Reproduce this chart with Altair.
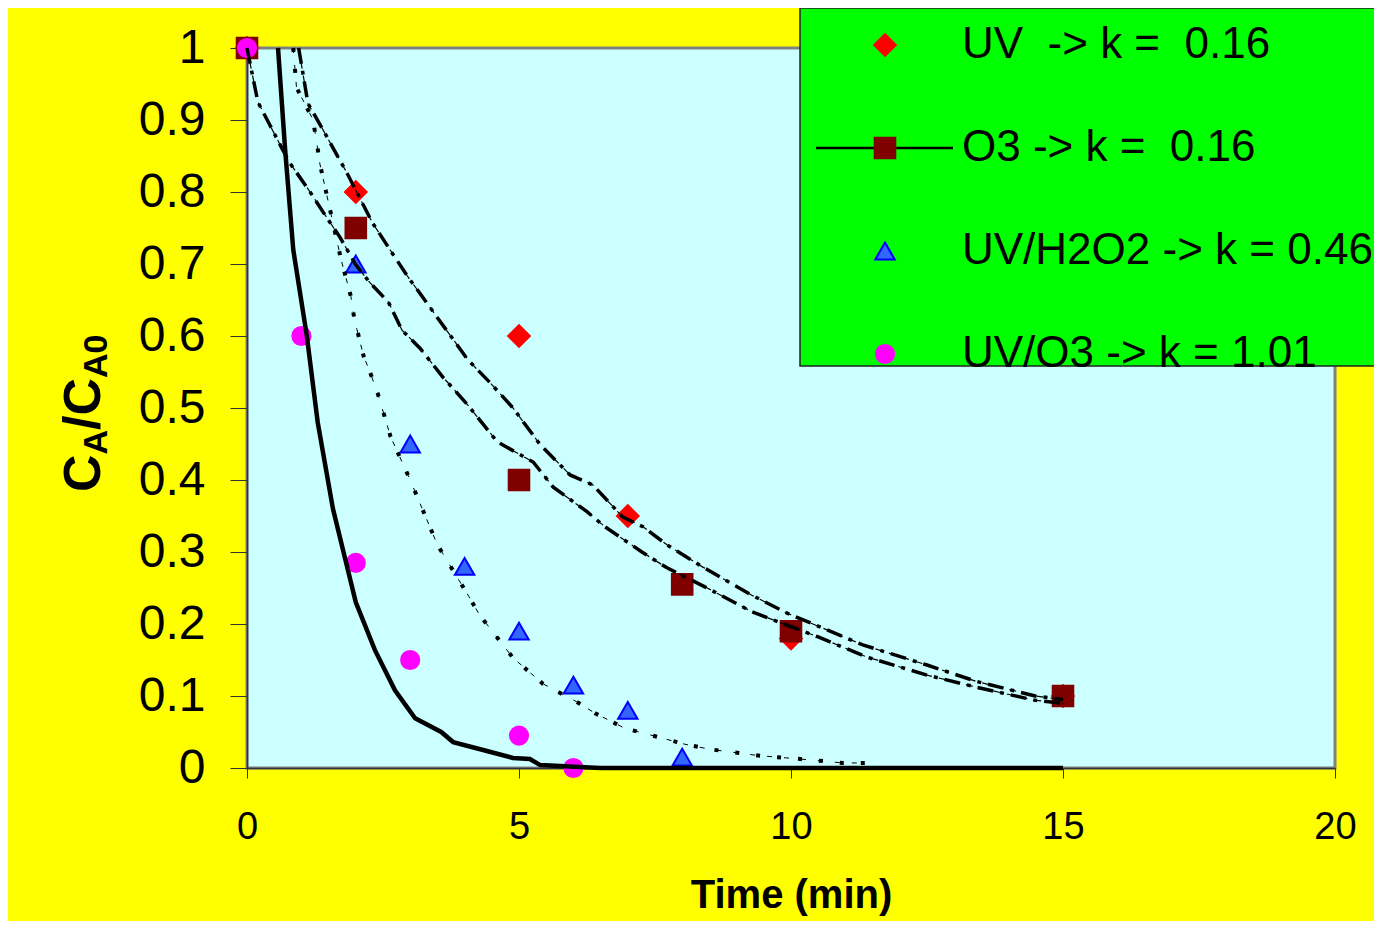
import altair as alt
import pandas as pd

FONT = "Liberation Sans"
NB = "\u00a0"

# ---- legend / series ----
series_labels = ["UV" + NB + " -> k =" + NB + " 0.16", "O3 -> k =" + NB + " 0.16",
                 "UV/H2O2 -> k = 0.46", "UV/O3 -> k = 1.01"]
series_shapes = ["diamond", "square", "triangle-up", "circle"]
series_fills = ["#FF0000", "#800000", "#3366FF", "#FF00FF"]
series_strokes = ["#FF0000", "#800000", "#0000FF", "#FF00FF"]
series_sizes = [470, 330, 500, 330]

# ---- measured points ----
uv_t = [0, 2, 5, 7, 10, 15]
uv_c = [1.0, 0.8, 0.6, 0.35, 0.18, 0.1]
o3_t = [0, 2, 5, 8, 10, 15]
o3_c = [1.0, 0.75, 0.4, 0.255, 0.19, 0.1]
h2o2_t = [0, 2, 3, 4, 5, 6, 7, 8]
h2o2_c = [1.0, 0.7, 0.45, 0.28, 0.19, 0.115, 0.08, 0.015]
uvo3_t = [0, 1, 2, 3, 5, 6]
uvo3_c = [1.0, 0.6, 0.285, 0.15, 0.045, 0.0]

# ---- fitted curves ----
fit_uvo3_t = [0.57, 0.7, 0.85, 1.1, 1.3, 1.58, 2.0, 2.35, 2.72, 3.09, 3.57, 3.79, 4.34, 4.89, 5.2, 5.39, 6.49, 15.0]
fit_uvo3_c = [1.0, 0.86, 0.72, 0.6, 0.48, 0.36, 0.23, 0.164, 0.108, 0.069, 0.05, 0.036, 0.025, 0.014, 0.0125, 0.004, 0.0, 0.0]

fit_h2o2_t = [0.85, 0.91, 1.21, 1.28, 1.34, 1.73, 1.91, 1.97, 2.14, 2.27, 2.40, 2.64, 3.0, 3.5, 4.08, 4.28, 4.89, 5.44,
              6.06, 6.4, 6.95, 7.41, 8.05, 8.51, 9.43, 10.17, 10.96, 11.4]
fit_h2o2_c = [1.0, 0.945, 0.901, 0.87, 0.839, 0.706, 0.655, 0.625, 0.573, 0.548, 0.521, 0.46, 0.40, 0.31, 0.238, 0.212,
              0.153, 0.117, 0.092, 0.076, 0.055, 0.046, 0.033, 0.026, 0.017, 0.0125, 0.007, 0.007]

fit_uv_t = [0.95, 1.12, 1.4, 1.84, 2.3, 2.67, 2.96, 3.4, 4.06, 4.47, 4.89, 5.39, 5.94, 6.36, 6.9, 7.28, 7.72, 8.38,
            9.28, 9.93, 10.53, 11.32, 12.5, 13.42, 14.49, 15.0]
fit_uv_c = [1.0, 0.923, 0.886, 0.826, 0.758, 0.715, 0.682, 0.636, 0.567, 0.535, 0.5, 0.449, 0.407, 0.393, 0.349, 0.335,
            0.31, 0.279, 0.24, 0.215, 0.196, 0.171, 0.143, 0.12, 0.1, 0.095]

fit_o3_t = [0, 0.2, 0.42, 0.66, 0.79, 1.16, 1.4, 1.71, 1.99, 2.26, 2.6, 2.85, 3.18, 3.6, 4.06, 4.6, 5.26, 5.63, 6.25,
            6.58, 7.26, 7.72, 8.46, 9.28, 10.5, 11.4, 12.5, 13.42, 14.49, 15.0]
fit_o3_c = [1.0, 0.925, 0.893, 0.858, 0.84, 0.8, 0.772, 0.737, 0.70, 0.674, 0.647, 0.608, 0.583, 0.543, 0.504, 0.453,
            0.425, 0.39, 0.356, 0.335, 0.3, 0.278, 0.25, 0.217, 0.182, 0.154, 0.129, 0.112, 0.094, 0.09]

x_ticks = [0, 5, 10, 15, 20]
y_ticks = [0, 0.1, 0.2, 0.3, 0.4, 0.5, 0.6, 0.7, 0.8, 0.9, 1.0]

# ---- tables ----
rows = []
for lab, ts, cs in [(series_labels[2], h2o2_t, h2o2_c), (series_labels[0], uv_t, uv_c),
                    (series_labels[1], o3_t, o3_c), (series_labels[3], uvo3_t, uvo3_c)]:
    for t, c in zip(ts, cs):
        rows.append({"series": lab, "t": t, "c": c})
points_df = pd.DataFrame(rows)


def curve(ts, cs):
    return pd.DataFrame({"t": ts, "c": cs})


X = alt.X("t:Q", scale=alt.Scale(domain=[0, 20], nice=False),
          axis=alt.Axis(values=x_ticks, format="~g", labelFontSize=38, labelFont=FONT, labelColor="black",
                        labelPadding=60, labelBaseline="alphabetic", labelFlush=False, labelOverlap=False,
                        tickSize=10, tickColor="#333333", domainColor="#333333", domainWidth=1.5, grid=False,
                        title="Time (min)", titleFont=FONT, titleFontSize=40, titleFontWeight="bold",
                        titleColor="black", titleY=139, titleBaseline="alphabetic"))
Y = alt.Y("c:Q", scale=alt.Scale(domain=[0, 1], nice=False),
          axis=alt.Axis(values=y_ticks, format="~g", labelFontSize=48, labelFont=FONT, labelColor="black",
                        labelPadding=25, labelOverlap=False, tickSize=17, tickColor="#333333",
                        domainColor="#333333", domainWidth=1.5, grid=False, title=None))

legend = alt.Legend(orient="none", legendX=616, legendY=-25, direction="vertical", title=None,
                    labelFontSize=44, labelFont=FONT, labelColor="black", labelLimit=1000, labelOffset=55,
                    rowPadding=59, padding=0, symbolStrokeWidth=2, symbolOpacity=1)

points = alt.Chart(points_df).mark_point(filled=True, strokeWidth=2, opacity=1).encode(
    x=X, y=Y,
    color=alt.Color("series:N", scale=alt.Scale(domain=series_labels, range=series_fills), legend=legend),
    shape=alt.Shape("series:N", scale=alt.Scale(domain=series_labels, range=series_shapes), legend=legend),
    stroke=alt.Stroke("series:N", scale=alt.Scale(domain=series_labels, range=series_strokes), legend=legend),
    size=alt.Size("series:N", scale=alt.Scale(domain=series_labels, range=series_sizes), legend=legend),
)

line_uvo3 = alt.Chart(curve(fit_uvo3_t, fit_uvo3_c)).mark_line(color="black", strokeWidth=4.5).encode(x=X, y=Y)
line_h2o2_dot = alt.Chart(curve(fit_h2o2_t, fit_h2o2_c)).mark_line(
    color="black", strokeWidth=4, strokeDash=[4, 17]).encode(x=X, y=Y)
line_h2o2_thin = alt.Chart(curve(fit_h2o2_t, fit_h2o2_c)).mark_line(
    color="black", strokeWidth=1, strokeDash=[5, 12]).encode(x=X, y=Y)
line_uv_thin = alt.Chart(curve(fit_uv_t, fit_uv_c)).mark_line(
    color="black", strokeWidth=1.2, strokeDash=[7, 7]).encode(x=X, y=Y)
line_uv_thick = alt.Chart(curve(fit_uv_t, fit_uv_c)).mark_line(
    color="black", strokeWidth=3.5, strokeDash=[16, 7, 4, 7]).encode(x=X, y=Y)
line_o3_thin = alt.Chart(curve(fit_o3_t, fit_o3_c)).mark_line(
    color="black", strokeWidth=1.2, strokeDash=[7, 7]).encode(x=X, y=Y)
line_o3_thick = alt.Chart(curve(fit_o3_t, fit_o3_c)).mark_line(
    color="black", strokeWidth=3.5, strokeDash=[16, 7, 4, 7]).encode(x=X, y=Y)

one = pd.DataFrame({"k": [0]})
legend_box = alt.Chart(one).mark_rect(fill="#00FF00", stroke="#222222", strokeWidth=1.5).encode(
    x=alt.value(553), x2=alt.value(1133), y=alt.value(-40), y2=alt.value(318))
legend_line = alt.Chart(one).mark_rule(color="black", strokeWidth=2.5).encode(
    x=alt.value(569), x2=alt.value(706), y=alt.value(100))


def ytitle(txt, size, ypos, xpos):
    return alt.Chart(one).mark_text(text=txt, angle=270, align="left", baseline="alphabetic",
                                    font=FONT, fontSize=size, fontWeight="bold", color="black").encode(
        x=alt.value(xpos), y=alt.value(ypos))


title_parts = [ytitle("C", 52, 444, -147), ytitle("A", 34, 406.5, -140),
               ytitle("/C", 52, 382, -147), ytitle("A0", 34, 330, -140)]

chart = alt.layer(
    points, line_uvo3, line_h2o2_dot, line_h2o2_thin, line_uv_thin, line_uv_thick, line_o3_thin, line_o3_thick,
    legend_box, legend_line, *title_parts
).properties(
    width=1088, height=720,
    autosize=alt.AutoSizeParams(type="none"),
    padding={"left": 239, "top": 40, "right": 39, "bottom": 153},
).configure(background="#FFFF00", font=FONT).configure_view(
    fill="#CCFFFF", stroke="#808080", strokeWidth=3)

chart.save("out.html", embed_options={"renderer": "svg", "actions": False})
